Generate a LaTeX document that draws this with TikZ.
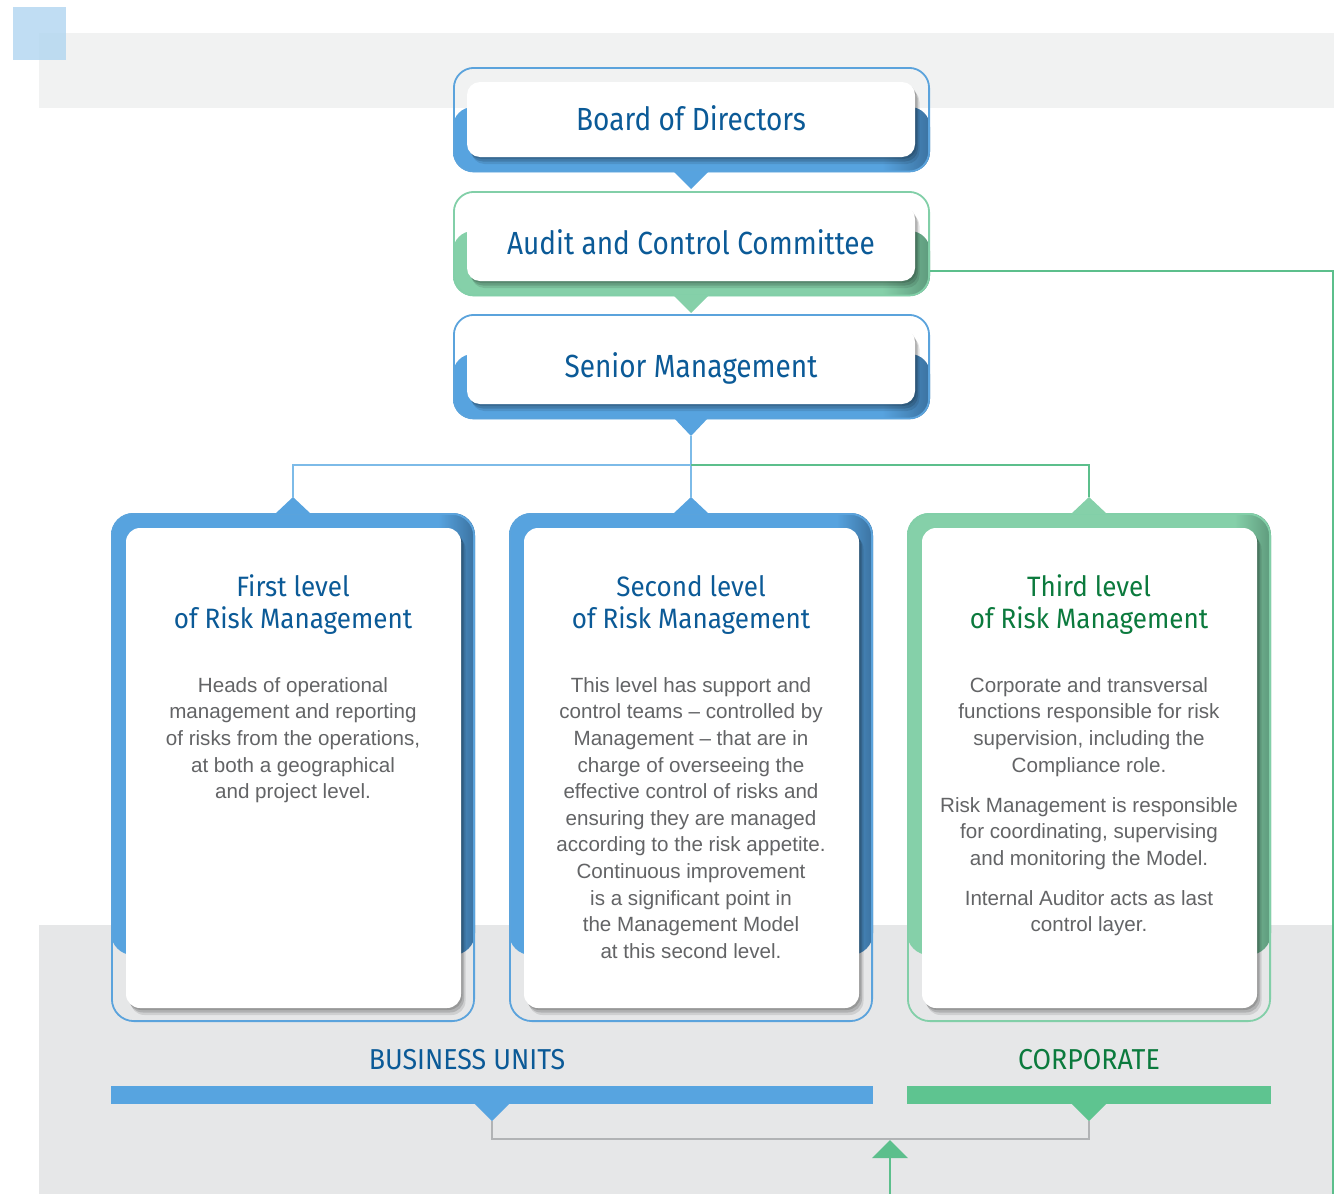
\documentclass[tikz,border=0pt]{standalone}
\usepackage{fontspec}
\newfontfamily\tfont[FakeStretch=0.93]{Fira Sans}
\newfontfamily\hfont[FakeStretch=0.875]{Fira Sans}
\newfontfamily\bfont{Liberation Sans}
\usetikzlibrary{shadows}
\definecolor{bandtop}{HTML}{F1F2F2}
\definecolor{bandbot}{HTML}{E6E7E8}
\definecolor{sqblue}{HTML}{B2D6F0}
\definecolor{blueL}{HTML}{57A3DF}
\definecolor{blueD}{HTML}{3B72A0}
\definecolor{blueO}{HTML}{5BA3DC}
\definecolor{blueC}{HTML}{7DBBE8}
\definecolor{greenL}{HTML}{85D0A9}
\definecolor{greenD}{HTML}{5E9A7C}
\definecolor{greenO}{HTML}{82CFA8}
\definecolor{greenC}{HTML}{5CBF8C}
\definecolor{titleblue}{HTML}{0B5A97}
\definecolor{titlegreen}{HTML}{0B7A3D}
\definecolor{bodygray}{HTML}{636466}
\definecolor{grayline}{HTML}{B1B3B5}
\definecolor{barblue}{HTML}{57A4E0}
\definecolor{bargreen}{HTML}{5EC490}
\pgfdeclarehorizontalshading{bshade}{100bp}{color(0bp)=(blueL); color(25bp)=(blueL); color(70bp)=(blueL); color(75bp)=(blueD); color(100bp)=(blueD)}
\pgfdeclarehorizontalshading{gshade}{100bp}{color(0bp)=(greenL); color(25bp)=(greenL); color(70bp)=(greenL); color(75bp)=(greenD); color(100bp)=(greenD)}
\tikzset{
  innerbox/.style={fill=white, rounded corners=13pt, inner sep=0pt,
    drop shadow={shadow xshift=1.5pt, shadow yshift=-2pt, opacity=0.14, fill=black},
    drop shadow={shadow xshift=3pt, shadow yshift=-4.5pt, opacity=0.14, fill=black},
    drop shadow={shadow xshift=4.5pt, shadow yshift=-7pt, opacity=0.10, fill=black}},
  toptext/.style={font=\hfont\fontsize{32}{36}\selectfont, text=titleblue, text height=22pt, text depth=0pt},
  ltitle/.style={font=\tfont\fontsize{28}{32}\selectfont, align=center, anchor=north, inner sep=0pt},
  lbody/.style={font=\bfont\fontsize{20.6}{26.6}\selectfont, text=bodygray, align=center, anchor=north, inner sep=0pt},
  blabel/.style={font=\tfont\fontsize{28.8}{32}\selectfont, anchor=base, inner sep=0pt},
  conn/.style={draw=#1, line width=2.2pt}
}
\newcommand\topbox[5]{% name, top y, shading, outline colour, text
  \shade[shading=#3, rounded corners=20pt] (453,{#2+40}) rectangle (930,{#2+105});
  \draw[#4, line width=1.8pt, rounded corners=20pt] (453.9,{#2+0.9}) rectangle (929.1,{#2+104.5});
  \node[innerbox, toptext, minimum width=448pt, minimum height=75pt] (#1) at (691,{#2+52.5}) {#5};
}
\newcommand\lowbox[4]{% name, left x, shading, outline colour
  \shade[shading=#3, rounded corners=22pt] (#2,513) rectangle ({#2+364},955);
  \draw[#4, line width=1.8pt, rounded corners=22pt] ({#2+0.9},513.9) rectangle ({#2+363.1},1021.1);
  \node[innerbox, rounded corners=14pt, minimum width=335pt, minimum height=480pt] (#1) at ({#2+182.5},768) {};
}
\begin{document}
\begin{tikzpicture}[x=1pt,y=-1pt]
\useasboundingbox (0,0) rectangle (1334,1194);
\clip (0,0) rectangle (1334,1194);
% background bands
\fill[bandtop] (39,33) rectangle (1334,108);
\fill[bandbot] (39,925) rectangle (1334,1194);
\fill[sqblue, opacity=0.82] (13,7) rectangle (66,60);

% top boxes
\topbox{board}{67}{bshade}{blueO}{Board of Directors}
\topbox{audit}{191}{gshade}{greenO}{Audit and Control Committee}
\topbox{senior}{314}{bshade}{blueO}{Senior Management}

% small triangles under top boxes
\fill[blueL] (673,171) -- (709,171) -- (691,189) -- cycle;
\fill[greenL] (673,295) -- (709,295) -- (691,313) -- cycle;
\fill[blueL] (673,417) -- (709,417) -- (691,436) -- cycle;
\coordinate (smtip) at (691,436);

% lower boxes
\lowbox{first}{111}{bshade}{blueO}
\lowbox{second}{509}{bshade}{blueO}
\lowbox{third}{907}{gshade}{greenO}

\fill[blueL] (275,514) -- (293,497) -- (311,514) -- cycle;
\fill[blueL] (673,514) -- (691,497) -- (709,514) -- cycle;
\fill[greenL] (1071,514) -- (1089,497) -- (1107,514) -- cycle;
\coordinate (t1) at (293,497);
\coordinate (t2) at (691,497);
\coordinate (t3) at (1089,497);
\coordinate (hj) at (691,465);

% connectors from senior management
\draw[conn=blueC] (smtip) -- (t2);
\draw[conn=blueC] (hj) -| (t1);
\draw[conn=greenC] (hj) -| (t3);

% texts of lower boxes
\node[ltitle, text=titleblue] (first-title) at (293,573.6) {\strut First level\\of Risk Management};
\node[ltitle, text=titleblue] (second-title) at (691,573.6) {\strut Second level\\of Risk Management};
\node[ltitle, text=titlegreen] (third-title) at (1089,573.6) {\strut Third level\\of Risk Management};

\node[lbody] (first-body) at (293,673.4) {\strut Heads of operational\\management and reporting\\of risks from the operations,\\at both a geographical\\and project level.};
\node[lbody] (second-body) at (691,673.4) {\strut This level has support and\\control teams – controlled by\\Management – that are in\\charge of overseeing the\\effective control of risks and\\ensuring they are managed\\according to the risk appetite.\\Continuous improvement\\is a significant point in\\the Management Model\\at this second level.};
\node[lbody] (third-body) at (1089,673.4) {\strut Corporate and transversal\\functions responsible for risk\\supervision, including the\\Compliance role.\\[13.4pt]Risk Management is responsible\\for coordinating, supervising\\and monitoring the Model.\\[13.4pt]Internal Auditor acts as last\\control layer.};

% bottom labels and bars
\node[blabel, text=titleblue] (bu) at (467,1069) {BUSINESS UNITS};
\node[blabel, text=titlegreen] (corp) at (1089,1069) {CORPORATE};
\fill[barblue] (111,1086) rectangle (873,1104);
\fill[bargreen] (907,1086) rectangle (1271,1104);
\fill[barblue] (474,1103) -- (510,1103) -- (492,1121) -- cycle;
\fill[bargreen] (1071,1103) -- (1107,1103) -- (1089,1121) -- cycle;
\coordinate (bt) at (492,1121);
\coordinate (ct) at (1089,1121);
\coordinate (gm) at (890,1140);
\draw[grayline, line width=2.5pt] (bt) -- (492,1139) -- (1089,1139) -- (ct);

% green feedback line from the Audit and Control Committee
\coordinate (auditout) at (930,271);
\coordinate (arrowbase) at (890,1158);
\draw[greenC, line width=2.2pt] (auditout) -- (1333,271) -- (1333,1230) -- (890,1230) -- (arrowbase);
\fill[greenC] (872,1158) -- (gm) -- (908,1158) -- cycle;
\end{tikzpicture}
\end{document}
